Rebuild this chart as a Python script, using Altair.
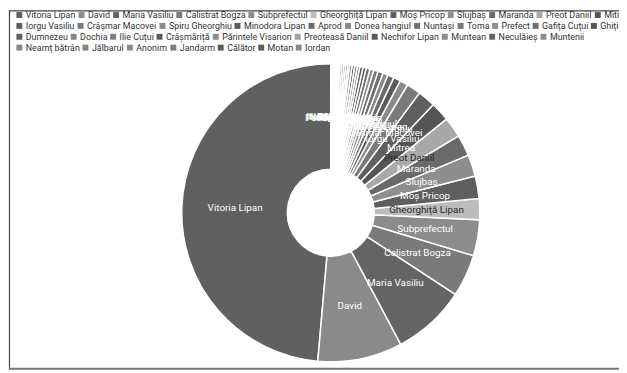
import altair as alt
import pandas as pd

categories = [
    "Vitoria Lipan", "David", "Maria Vasiliu", "Calistrat Bogza", "Subprefectul",
    "Gheorghiță Lipan", "Moș Pricop", "Slujbaș", "Maranda", "Preot Daniil", "Mitrea",
    "Iorgu Vasiliu", "Crâșmar Macovei", "Spiru Gheorghiu", "Minodora Lipan", "Aprod",
    "Donea hangiul", "Nuntași", "Toma", "Prefect", "Gafița Cuțui", "Ghițișor",
    "Dumnezeu", "Dochia", "Ilie Cuțui", "Crâșmăriță", "Părintele Visarion",
    "Preoteasă Daniil", "Nechifor Lipan", "Muntean", "Neculăieș", "Muntenii",
    "Neamț bătrân", "Jălbarul", "Anonim", "Jandarm", "Călător", "Motan", "Iordan",
]
values = [
    700, 132, 115, 66, 56,
    33, 35, 34, 33, 32, 30,
    28, 22, 13, 11, 10,
    8, 8, 7, 6, 6, 5,
    5, 4, 4, 4, 4,
    3, 3, 3, 3, 3,
    2, 2, 2, 2, 2, 2, 2,
]
colors = [
    "#606060", "#8a8a8a", "#646464", "#7a7a7a", "#8c8c8c",
    "#bcbcbc", "#5e5e5e", "#8e8e8e", "#6a6a6a", "#a8a8a8", "#555555",
    "#5f5f5f", "#7a7a7a", "#8a8a8a", "#5a5a5a", "#6a6a6a",
    "#888888", "#707070", "#777777", "#8e8e8e", "#6e6e6e", "#555555",
    "#5e5e5e", "#858585", "#7e7e7e", "#5c5c5c", "#8a8a8a",
    "#a0a0a0", "#5a5a5a", "#8a8a8a", "#636363", "#8f8f8f",
    "#878787", "#858585", "#8a8a8a", "#7c7c7c", "#5c5c5c", "#606060", "#8a8a8a",
]
# number of legend entries on each legend row
legend_rows = [11, 11, 10, 7]

W, H = 618, 364
FONT = "Roboto"

def text_color(hex_color):
    v = int(hex_color[1:3], 16)
    return "#2b2b2b" if v > 0xa0 else "#ffffff"

df = pd.DataFrame({
    "name": categories,
    "value": values,
    "rank": list(range(len(categories))),
    "tc": [text_color(c) for c in colors],
})

base = alt.Chart(df).encode(
    theta=alt.Theta("value:Q", stack=True),
    order=alt.Order("rank:Q", sort="descending"),
    x=alt.value(326),
    y=alt.value(205),
)

arcs = base.mark_arc(outerRadius=151, innerRadius=44, stroke="white", strokeWidth=1.5).encode(
    color=alt.Color("name:N", scale=alt.Scale(domain=categories, range=colors), legend=None)
)

labels = base.mark_text(radius=97, fontSize=10, font=FONT).encode(
    text="name:N",
    color=alt.Color("tc:N", scale=None),
)

layers = [arcs, labels]
start = 0
for i, n in enumerate(legend_rows):
    names = categories[start:start + n]
    cols = colors[start:start + n]
    start += n
    leg = alt.Chart(df).transform_filter(
        alt.FieldOneOfPredicate(field="name", oneOf=names)
    ).mark_square(size=0, opacity=0).encode(
        x=alt.value(0),
        y=alt.value(0),
        color=alt.Color(
            "name:N",
            scale=alt.Scale(domain=names, range=cols),
            legend=alt.Legend(
                title=None,
                orient="none",
                legendX=6,
                legendY=0 + 11 * i,
                direction="horizontal",
                symbolType="square",
                symbolSize=36,
                symbolStrokeWidth=0,
                symbolOpacity=1,
                labelFont=FONT,
                labelFontSize=9,
                labelColor="#333333",
                labelOffset=2,
                columnPadding=1,
                padding=0,
                labelLimit=0,
            ),
        ),
    )
    layers.append(leg)

frame_df = pd.DataFrame({"k": [0]})
frame_left = alt.Chart(frame_df).mark_rule(color="#444444", strokeWidth=1.2).encode(
    x=alt.value(0.5), y=alt.value(0), y2=alt.value(H)
)
frame_top = alt.Chart(frame_df).mark_rule(color="#444444", strokeWidth=1.2).encode(
    x=alt.value(0), x2=alt.value(W), y=alt.value(0.5)
)
frame_bottom = alt.Chart(frame_df).mark_rule(color="#777777", strokeWidth=2).encode(
    x=alt.value(0), x2=alt.value(W), y=alt.value(H - 1)
)
layers += [frame_left, frame_top, frame_bottom]

chart = alt.layer(*layers).resolve_scale(color="independent").properties(
    width=W,
    height=H,
    padding={"left": 1, "top": 0, "right": 0, "bottom": 1},
    autosize=alt.AutoSizeParams(type="none"),
).configure_view(strokeWidth=0)

chart.save("out.html", embed_options={"renderer": "svg", "actions": False})
